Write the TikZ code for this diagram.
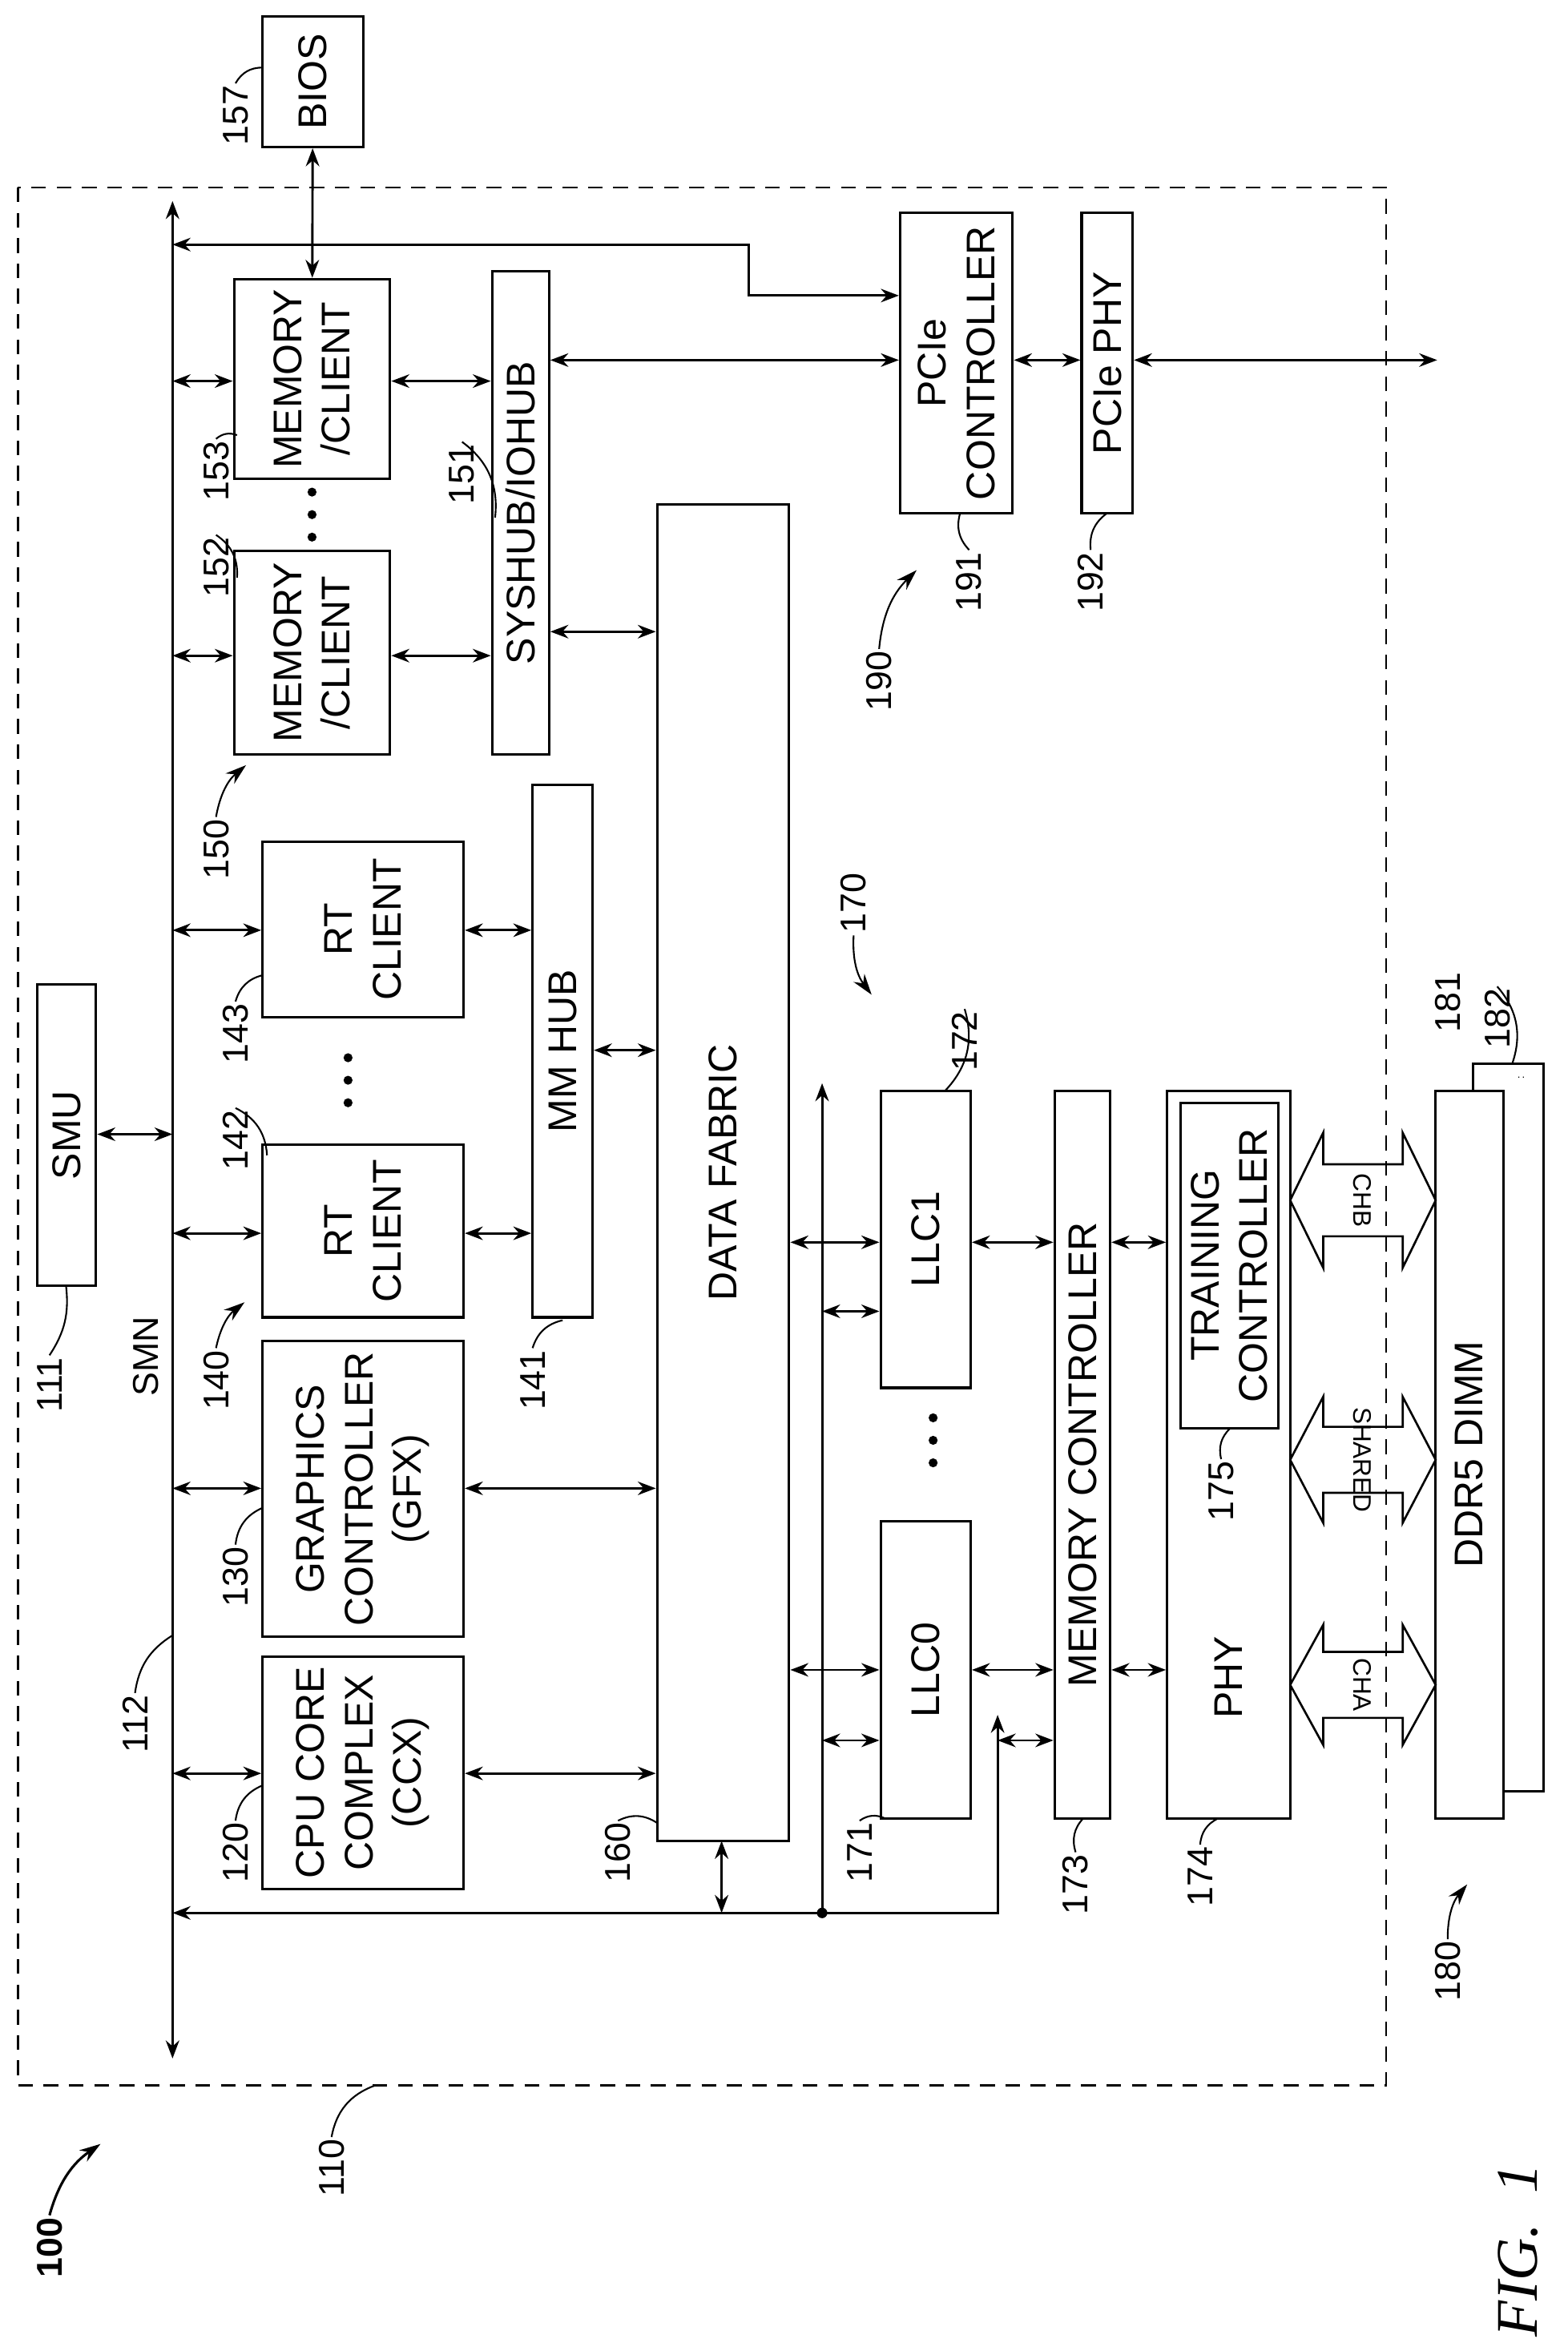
\documentclass[tikz,border=0pt]{standalone}
\usepackage{fontspec}
\setmainfont{Liberation Sans}
\newfontfamily\figfont{Liberation Serif}
\usetikzlibrary{arrows.meta,fit,positioning}
\tikzset{
  box/.style={draw=black, line width=2.4pt, inner sep=0pt, fill=white},
  txt/.style={rotate=90, align=center, font=\fontsize{38}{46}\selectfont},
  num/.style={rotate=90, inner sep=2pt, font=\fontsize{34}{40}\selectfont},
  lead/.style={line width=1.6pt},
  dbl/.style={line width=2.2pt, {Stealth[length=0.6cm,width=0.45cm]}-{Stealth[length=0.6cm,width=0.45cm]}},
  one/.style={line width=2.2pt, -{Stealth[length=0.6cm,width=0.45cm]}},
  grp/.style={line width=1.6pt, -{Stealth[length=0.7cm,width=0.45cm]}},
}
\newcommand\blk[5]{\node[box, fit={(#2,#3)(#4,#5)}] (#1) {};}
\newcommand\link[3]{\draw[dbl] (#1 |- 0,#3) -- (#2 |- 0,#3);}
\newcommand\busarrow[4]{%
  \draw[line width=2pt] (860,#1) -- (882,#1-#2) -- (882,#1-#3) -- (935,#1-#3) -- (935,#1-#2)
    -- (957,#1) -- (935,#1+#2) -- (935,#1+#3) -- (882,#1+#3) -- (882,#1+#2) -- cycle;
  \node[rotate=-90, font=\fontsize{24}{28}\selectfont] at (908,#1) {#4};}
\begin{document}
\begin{tikzpicture}[x=0.05cm, y=-0.05cm]
\useasboundingbox (0,0) rectangle (1045,1567);

% outer chip boundary
\draw[line width=2pt, dash pattern=on 14pt off 10pt] (12,125) rectangle (924,1390);

% SMN bus
\coordinate (smnT) at (115,134);
\coordinate (smnB) at (115,1372);
\draw[dbl] (smnT) -- (smnB);
\node[num] (smn) at (97,904) {SMN};

% blocks
\blk{smu}{25}{656}{64}{857}
\node[txt] at (smu) {SMU};
\blk{ccx}{175}{1104}{309}{1259}
\node[txt] at (ccx) {CPU CORE\\COMPLEX\\(CCX)};
\blk{gfx}{175}{894}{309}{1091}
\node[txt] at (gfx) {GRAPHICS\\CONTROLLER\\(GFX)};
\blk{rta}{175}{763}{309}{878}
\node[txt] at (rta) {RT\\CLIENT};
\blk{rtb}{175}{561}{309}{678}
\node[txt] at (rtb) {RT\\CLIENT};
\blk{mema}{156}{367}{260}{503}
\node[txt] at (mema) {MEMORY\\/CLIENT};
\blk{memb}{156}{186}{260}{319}
\node[txt] at (memb) {MEMORY\\/CLIENT};
\blk{bios}{175}{11}{242}{98}
\node[txt] at (bios) {BIOS};
\blk{syshub}{328}{181}{366}{503}
\node[txt] at (syshub) {SYSHUB/IOHUB};
\blk{mmhub}{355}{523}{395}{878}
\node[txt] at (mmhub) {MM HUB};
\blk{df}{438}{336}{526}{1227}
\node[txt] at (df) {DATA FABRIC};
\blk{pciec}{600}{142}{675}{342}
\node[txt] at (pciec) {PCIe\\CONTROLLER};
\blk{pciep}{721}{142}{755}{342}
\node[txt] at (pciep) {PCIe PHY};
\blk{llcb}{587}{727}{647}{925}
\node[txt] at (llcb) {LLC1};
\blk{llca}{587}{1014}{647}{1212}
\node[txt] at (llca) {LLC0};
\blk{mc}{703}{727}{740}{1212}
\node[txt] at (mc) {MEMORY CONTROLLER};
\blk{phy}{778}{727}{860}{1212}
\node[txt] at (819,1118) {PHY};
\blk{tc}{787}{735}{852}{952}
\node[txt] at (tc) {TRAINING\\CONTROLLER};
\blk{dimmb}{982}{709}{1029}{1194}
\node at (1014,718) {.\,.};
\blk{dimma}{957}{727}{1002}{1212}
\node[txt] at (dimma) {DDR5 DIMM};

% dots
\foreach \y in {705,720,735} \fill (232,\y) circle (3);
\foreach \y in {328,343,358} \fill (208,\y) circle (3);
\foreach \y in {945,960,975} \fill (622,\y) circle (3);

% connections
\draw[dbl] (bios) -- (memb);
\link{smnT}{smu.east}{756}
\link{smnT}{memb.west}{254}
\link{memb.east}{syshub.west}{254}
\link{smnT}{mema.west}{437}
\link{mema.east}{syshub.west}{437}
\link{syshub.east}{df.west}{421}
\link{syshub.east}{pciec.west}{240}
\link{pciec.east}{pciep.west}{240}
\coordinate (pcieout) at (958,240);
\link{pciep.east}{pcieout}{240}
\draw[dbl] (smnT |- 0,163) -- (499,163) |- (pciec.west |- 0,197);
\link{smnT}{rtb.west}{620}
\link{rtb.east}{mmhub.west}{620}
\link{mmhub.east}{df.west}{700}
\link{smnT}{rta.west}{822}
\link{rta.east}{mmhub.west}{822}
\link{smnT}{gfx.west}{992}
\link{gfx.east}{df.west}{992}
\link{smnT}{ccx.west}{1182}
\link{ccx.east}{df.west}{1182}

\coordinate (jn) at (548,1275);
\coordinate (upl) at (665,1143);
\coordinate (dft) at (548,722);
\draw[dbl] (481,1227) -- (481,1275);
\draw[dbl] (smnT |- jn) -| (upl);
\draw[one] (jn) -- (dft);
\fill (jn) circle (3.5);
\link{df.east}{llcb.west}{828}
\link{jn}{llcb.west}{874}
\link{df.east}{llca.west}{1113}
\link{jn}{llca.west}{1160}
\link{llcb.east}{mc.west}{828}
\link{llca.east}{mc.west}{1113}
\link{upl}{mc.west}{1160}
\link{mc.east}{phy.west}{828}
\link{mc.east}{phy.west}{1113}

% channel buses
\busarrow{800}{45}{24}{CHB}
\busarrow{973}{42}{22}{SHARED}
\busarrow{1123}{40}{22}{CHA}

% reference numerals
\node[num] (l111) at (33,923) {111};
\draw[lead] (l111.east) to[bend right=20] (44,857);
\node[num] (l112) at (90,1149) {112};
\draw[lead] (l112.east) to[bend left=25] (115,1090);
\node[num] (l120) at (157,1235) {120};
\draw[lead] (l120.east) to[bend left=30] (175,1190);
\node[num] (l130) at (157,1051) {130};
\draw[lead] (l130.east) to[bend left=30] (175,1005);
\node[num] (l140) at (144,920) {140};
\draw[grp] (l140.east) to[bend left=20] (163,868);
\node[num] (l141) at (355,920) {141};
\draw[lead] (l141.east) to[bend left=30] (375,880);
\node[num] (l142) at (157,760) {142};
\draw[lead] (l142.east) to[bend left=30] (178,770);
\node[num] (l143) at (157,689) {143};
\draw[lead] (l143.east) to[bend left=30] (175,650);
\node[num] (l150) at (144,566) {150};
\draw[grp] (l150.east) to[bend left=20] (164,510);
\node[num] (l152) at (144,378) {152};
\draw[lead] (l152.east) to[bend left=30] (158,385);
\node[num] (l153) at (144,314) {153};
\draw[lead] (l153.east) to[bend left=30] (158,290);
\node[num] (l151) at (308,316) {151};
\draw[lead] (l151.east) to[bend left=30] (330,345);
\node[num] (l157) at (157,77) {157};
\draw[lead] (l157.east) to[bend left=30] (175,45);
\node[num] (l160) at (412,1235) {160};
\draw[lead] (l160.east) to[bend left=30] (438,1215);
\node[num] (l170) at (569,602) {170};
\draw[grp] (l170.west) to[bend right=20] (581,663);
\node[num] (l171) at (573,1235) {171};
\draw[lead] (l171.east) to[bend left=30] (590,1212);
\node[num] (l172) at (643,694) {172};
\draw[lead] (l172.east) to[bend left=30] (630,727);
\node[num] (l173) at (717,1256) {173};
\draw[lead] (l173.east) to[bend left=30] (722,1212);
\node[num] (l174) at (800,1251) {174};
\draw[lead] (l174.east) to[bend left=30] (812,1212);
\node[num] (l175) at (814,994) {175};
\draw[lead] (l175.east) to[bend left=30] (820,952);
\node[num] (l180) at (965,1314) {180};
\draw[grp] (l180.east) to[bend left=20] (978,1256);
\node[num] (l181) at (965,668) {181};
\node[num] (l182) at (998,679) {182};
\draw[lead] (l182.east) to[bend left=30] (1008,709);
\node[num] (l190) at (586,454) {190};
\draw[grp] (l190.east) to[bend left=20] (611,380);
\node[num] (l191) at (646,388) {191};
\draw[lead] (l191.east) to[bend left=30] (640,342);
\node[num] (l192) at (727,388) {192};
\draw[lead] (l192.east) to[bend left=30] (738,342);
\node[num] (l110) at (221,1445) {110};
\draw[lead] (l110.east) to[bend left=30] (250,1390);
\node[num, font=\fontsize{34}{40}\selectfont\bfseries] (l100) at (33,1498) {100};
\draw[grp, line width=2.4pt] (l100.east) to[bend left=20] (67,1429);
\node[rotate=90, font=\figfont\itshape\fontsize{56}{64}\selectfont] (fig) at (1012,1500) {FIG.~~1};
\end{tikzpicture}
\end{document}
